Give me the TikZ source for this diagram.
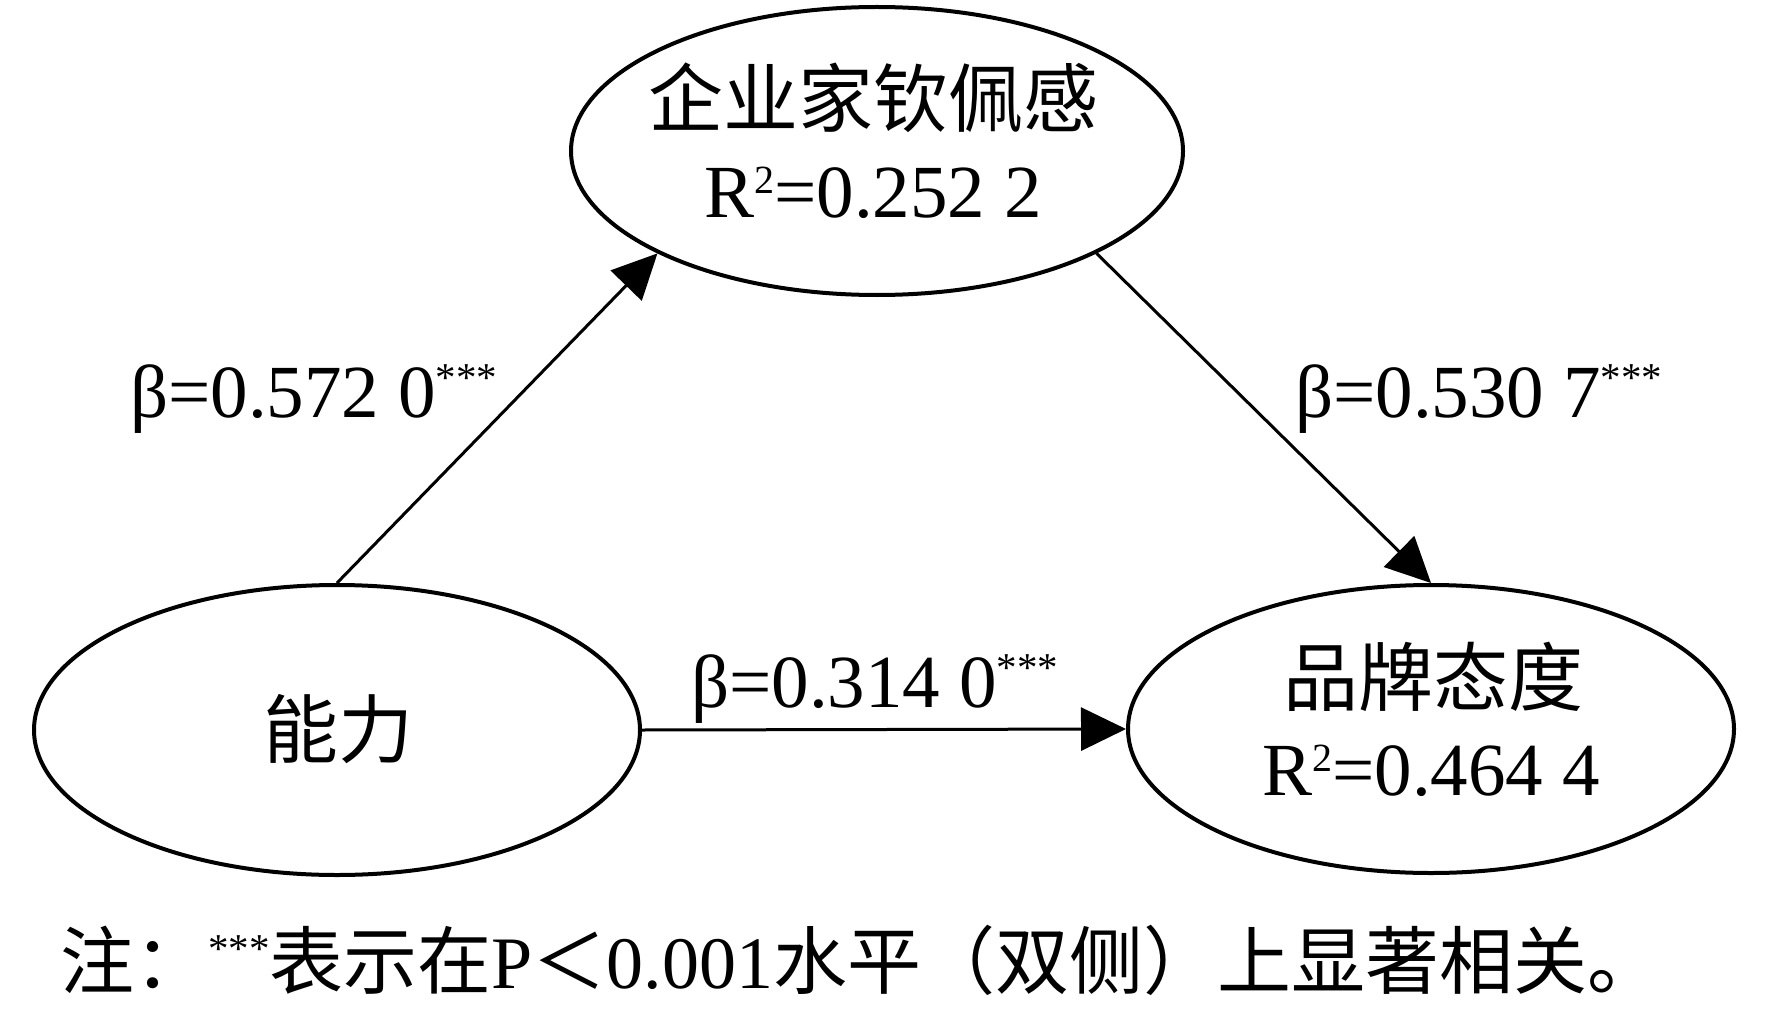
\documentclass[tikz,border=0pt]{standalone}
\usepackage{fontspec}
\setmainfont{Liberation Serif}
\newfontfamily\cjk{Noto Sans CJK SC}
\usetikzlibrary{shapes.geometric,arrows.meta}
\newcommand\mysupA[1]{\raisebox{24pt}{\fontsize{40}{40}\selectfont #1}}
\newcommand\mysupB[1]{\raisebox{26pt}{\fontsize{41}{41}\selectfont #1}}
\begin{document}
\begin{tikzpicture}[x=1pt,y=-1pt,
  ell/.style={draw,line width=4pt,ellipse,inner sep=0pt},
  txt/.style={inner sep=0pt,anchor=base,font=\fontsize{75}{90}\selectfont},
  arr/.style={line width=3pt,-{Triangle[length=45pt,width=43pt]}}]
\useasboundingbox (0,0) rectangle (1772,1011);
\node[ell,minimum width=612pt,minimum height=288pt] (top) at (877,151) {};
\node[ell,minimum width=606pt,minimum height=290pt] (left) at (337,730) {};
\node[ell,minimum width=606pt,minimum height=288pt] (right) at (1431,729) {};
\node[txt] (topA) at (873,127) {\cjk 企业家钦佩感};
\node[txt] (topB) at (873,218) {R\mysupA{2}=0.252 2};
\node[txt] (rightA) at (1433,705) {\cjk 品牌态度};
\node[txt] (rightB) at (1431,795) {R\mysupA{2}=0.464 4};
\node[txt] (leftA) at (338,757) {\cjk 能力};
\node[txt,anchor=base west] (b1) at (130,417) {β=0.572 0\mysupB{***}};
\node[txt,anchor=base west] (b2) at (1295,417) {β=0.530 7\mysupB{***}};
\node[txt,anchor=base west] (b3) at (691,707) {β=0.314 0\mysupB{***}};
\draw[arr] (left.north) -- (top.-155);
\draw[arr] (top.-25) -- (right.north);
\draw[arr] (left.east) -- (right.west);
\node[txt,anchor=base west,font=\fontsize{74}{90}\selectfont] (note) at (60,988)
  {\cjk 注：\rmfamily\mysupB{***}\cjk 表示在\rmfamily P\cjk ＜\rmfamily 0.001\cjk 水平（双侧）上显著相关。};
\end{tikzpicture}
\end{document}
